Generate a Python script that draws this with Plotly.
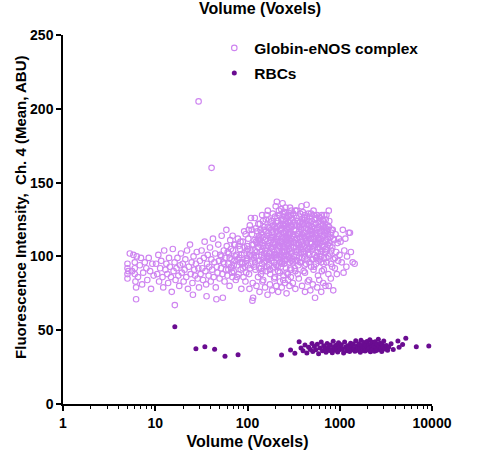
import plotly.graph_objects as go

# ---------------- data ----------------
# Globin-eNOS complex: (volume in voxels, mean intensity)
glob_left = [(5.0,88),(5.0,92),(5.0,85),(5.0,95),(5.1,90),(5.3,102),(5.6,90),(5.8,101),(6.0,96),(6.0,92),
             (6.0,88),(6.1,83),(6.2,79),(6.2,71),(6.3,100),(6.5,86),(6.8,94),(7.0,99),(7.2,81),(7.4,89),
             (7.7,96),(8.0,92),(8.2,84),(8.5,99),(8.8,90),(9.0,78),(9.3,95),(9.6,87)]
glob_b = [(10.2,95),(10.5,88),(10.8,101),(11,83),(11.3,92),(11.6,97),(12,86),(12.2,79),(12.5,104),(12.9,91),
          (13.2,95),(13.5,88),(13.8,82),(14.1,99),(14.4,93),(14.8,86),(15.1,76),(15.5,105),(15.8,90),(16.2,96),
          (16.3,67),(16.6,84),(17,92),(17.4,99),(17.8,87),(18.2,80),(18.6,94),(19,102),(19.4,89),(19.9,95),
          (20.3,83),(20.8,91),(21.2,98),(21.7,86),(22.1,104),(22.6,78),(23.1,93),(23.8,108),(24.2,88),(24.8,96),
          (25.3,82),(25.6,74),(26,100),(26.5,91),(27,87),(27.6,95),(28.2,103),(28.8,85),(29.3,92),(29.8,79)]
glob_outliers = [(29.5,205),(40.8,160)]
glob_c = [(30.5,97),(31,88),(31.8,104),(32.4,92),(33,84),(33.7,99),(34.3,110),(35,90),(35.6,81),(36,73),
          (36.4,95),(37.1,101),(37.9,87),(38.5,93),(39.2,106),(40,83),(40.6,98),(41.4,91),(42.2,112),(43,86),
          (43.8,96),(44.6,102),(45.3,79),(46,71),(46.5,93),(47.3,89),(48.2,108),(49,97),(49.8,85),(50.7,101),
          (51.6,92),(52.5,114),(53.4,88),(54,72),(54.5,96),(55.4,104),(56.4,83),(57.4,99),(58.4,91),(59,118),
          (59.6,107),(60.6,87),(61.7,95),(62.8,102),(63.9,80),(65,111),(66.1,93),(67.3,98),(68.5,86),(69,114),
          (69.7,104),(70.9,90),(72.1,97),(73.4,108),(74.7,84),(76,101),(77.3,94),(78.7,112),(80,88),(81.4,99),
          (82.9,105),(84.3,91),(85.8,78),(87.3,96),(88.9,110),(90.4,86),(92,102),(93.6,93),(95.3,115),(96.9,89),
          (98.6,99),(99.5,107),(62,91),(64,99),(66,105),(68,89),(71,94),(74,100),(77,86),(80,107),
          (83,96),(86,101),(89,92),(92,117),(95,83),(98,104)]
glob_d = [(100,98),(102,112),(104,88),(106,121),(108,104),(110,95),(112,115),(114,82),(116,108),(118,99),
          (120,126),(122,91),(124,110),(126,103),(128,117),(130,86),(132,106),(134,97),(136,122),(138,113),
          (140,92),(142,101),(144,128),(146,109),(148,84),(150,118),(152,96),(154,111),(156,104),(158,125),
          (160,90),(162,114),(164,100),(166,131),(168,107),(170,94),(172,119),(174,102),(176,88),(178,123),
          (180,111),(182,97),(184,116),(186,105),(188,129),(190,92),(192,113),(194,101),(196,120),(198,86),
          (200,108),(202,134),(204,99),(206,117),(208,137),(210,104),(212,93),(214,124),(216,110),(218,98),
          (220,128),(222,115),(224,89),(226,106),(228,121),(230,101),(232,132),(234,113),(236,95),(238,119),
          (240,136),(242,107),(244,84),(246,125),(248,103),(250,116),(253,97),(256,130),(259,110),(262,92),
          (265,122),(268,104),(271,118),(274,88),(277,127),(280,100),(283,114),(286,96),(289,133),(292,109),
          (295,121),(298,91),
          (105,78),(115,72),(113,70),(125,80),(135,76),(145,83),(155,79),(165,74),(175,81),(185,77),
          (195,85),(205,80),(215,76),(225,83),(235,79),(245,87),(255,82),(265,75),(275,84),(285,80),(295,86),
          (101,105),(107,92),(111,118),(117,101),(121,96),(127,109),(133,114),(139,103),(143,95),(149,107),
          (153,120),(159,112),(163,93),(169,116),(173,109),(179,99),(183,124),(187,113),(191,104),(197,110),
          (201,119),(207,101),(211,126),(217,114),(221,107),(227,96),(231,118),(237,110),(243,122),(249,100),
          (252,127),(257,112),(263,119),(267,98),(273,109),(279,123),(284,105),(288,115),(294,102),(297,128)]
glob_core = [(103,118),(109,126),(119,111),(123,119),(129,97),(131,122),(137,108),(141,116),(147,124),(151,102),
             (157,117),(161,128),(167,98),(171,125),(177,113),(181,106),(189,121),(193,96),(199,127),(203,112),
             (209,120),(213,108),(219,131),(223,118),(229,110),(233,125),(239,103),(241,129),(247,113),(251,121),
             (254,106),(258,133),(261,117),(264,101),(269,126),(272,113),(276,120),(281,108),(287,124),(291,116),
             (296,110),(299,131),(303,120),(308,114),(313,129),(317,100),(322,123),(327,111),(333,118),(338,126),
             (343,112),(347,97),(352,124),(357,109),(363,120),(368,113),(373,129),(377,106),(383,118),(388,125),
             (393,108),(398,130),(403,116),(410,121),(415,102),(421,126),(427,110),(433,119),(442,127),(447,114),
             (454,105),(461,121),(468,112),(476,127),(483,118),(491,109),(499,124),(507,115),(515,106),(524,128),
             (532,119),(541,110),(549,122),(558,116),(568,128),(577,103),(588,120),(597,111),(608,126),(617,109),
             (627,122),(637,114),(648,104),(658,124),(670,117),(680,128),(698,110),(708,119),(722,104),(745,115),
             (120,104),(135,111),(150,99),(165,107),(180,118),(195,103),(210,113),(225,100),(240,116),(255,104),
             (270,111),(285,119),(300,97),(315,115),(345,104),(375,113),(405,103),(435,106),(465,101),(495,115),
             (525,107),(555,99),(585,110),(615,100),(675,99),(720,96),(110,100),(130,112),(145,90),(160,106),
             (170,100),(190,109),(205,94),(220,102),(235,108),(250,95),(260,114),(280,105),(290,99),(320,106)]
glob_fill = [(52,100),(56,95),(61,103),(67,92),(72,108),(78,98),(84,110),(88,95),(93,106),(97,97),
             (102,94),(106,101),(112,108),(118,93),(124,100),(129,106),(134,92),(138,118),(144,104),(149,113),
             (155,97),(161,102),(166,120),(172,95),(178,106),(184,99),(189,117),(194,93),(200,101),(206,124),
             (212,99),(218,107),(224,121),(230,93),(236,103),(242,112),(248,130),(254,98),(260,124),(266,108),
             (272,100),(278,115),(284,128),(290,92),(296,106),(304,126),(311,96),(319,109),(326,121),(334,103),
             (341,131),(349,115),(356,94),(364,108),(372,123),(381,96),(389,115),(398,105),(407,126),(416,94),
             (426,112),(436,122),(446,98),(457,129),(468,106),(479,123),(490,93),(502,117),(514,98),(526,113),
             (539,125),(552,95),(565,118),(579,106),(593,127),(607,98),(622,112),(637,107),(652,125),(668,95),
             (684,120),(700,105),(717,128),(734,112),(752,100),(770,124),(789,107),(808,116),(828,93),(848,112),
             (140,88),(175,91),(215,90),(265,89),(330,90),(420,89),(520,91),(640,90),(240,96),(360,99)]
glob_e = [(300,112),(305,98),(310,125),(315,106),(320,118),(325,92),(330,131),(335,109),(340,101),(345,121),
          (350,88),(355,115),(360,104),(365,127),(370,96),(375,119),(380,110),(385,134),(390,99),(395,113),
          (400,123),(406,90),(412,107),(418,128),(424,116),(430,95),(437,135),(444,111),(451,102),(458,124),
          (465,84),(472,117),(480,106),(488,129),(496,98),(504,120),(512,112),(520,131),(528,93),(536,115),
          (545,108),(554,126),(563,100),(572,119),(581,87),(590,112),(600,124),(610,105),(620,117),(630,96),
          (640,128),(650,110),(661,121),(672,91),(683,114),(694,103),(705,125),(717,99),(729,117),(741,108),
          (753,88),(760,131),(765,120),(778,102),(791,113),(804,95),(817,118),(830,106),(840,118),(856,98),
          (870,111),(885,92),(890,99),(900,115),(915,103),(930,88),(946,109),(962,97),(978,112),(995,101),
          (310,82),(330,78),(360,85),(390,80),(420,76),(450,83),(480,77),(510,81),(540,72),(570,79),
          (600,84),(630,76),(660,82),(700,80),(760,80),(800,85),(850,77),
          (302,104),(318,113),(332,97),(348,108),(362,117),(378,103),(392,122),(408,114),(422,100),(440,109),
          (455,118),(470,96),(486,112),(502,105),(518,122),(534,101),(550,114),(566,109),(585,97),(605,116),
          (625,103),(645,118),(668,107),(690,116),(712,111),(735,121),(770,109),(810,104)]
glob_f = [(1020,110),(1050,96),(1080,118),(1100,89),(1120,104),(1150,112),(1180,93),(1200,100),(1250,116),
          (1290,116),(1320,103),(1380,96),(1450,95)]

# RBCs
rbc_left = [(16.3,52.4),(27.6,37.5),(34.5,38.8),(44,37.1),(57,32.3),(79,33.4),(234,33.2)]
rbc_cluster = [(293,36.6),(326,34.3),(363,42.2),(380,38),(400,36),(420,40),(440,34.5),(460,38.5),(480,37),(500,41),
               (510,35.5),(530,39),(550,36.8),(570,40.5),(590,34),(610,38),(630,42),(650,36),(670,39.5),(690,37.5),
               (710,35),(730,41),(750,38.2),(770,36.2),(790,40),(810,37),(830,34.8),(850,42.5),(870,38.8),(890,36.5),
               (910,39.8),(930,37.6),(950,35.2),(970,41.5),(990,38.4),(1010,36.9),(1040,40.2),(1070,37.3),(1100,34.6),
               (1130,42),(1160,38.6),(1190,36.1),(1220,39.4),(1250,37.8),(1280,35.5),(1310,41.2),(1340,38.9),(1370,36.7),
               (1400,40.6),(1430,37.2),(1460,35.8),(1490,42.8),(1520,39.1),(1550,36.4),(1580,38.3),(1610,40.9),(1640,37.4),
               (1670,35.1),(1700,43.2),(1730,39.6),(1760,37.9),(1790,36.3),(1820,41.7),(1850,38.7),(1880,35.9),(1910,40.3),
               (1940,37.1),(1970,42.4),(2000,38.5),(2030,36.6),(2060,39.9),(2090,37.7),(2120,43.5),(2150,35.4),(2180,40.7),
               (2210,38.1),(2240,36.8),(2270,41.9),(2300,37.5),(2340,39.3),(2380,35.7),(2420,42.1),(2460,38.2),(2500,36.2),
               (2540,40.4),(2580,37.3),(2620,43.8),(2660,39.0),(2700,36.9),(2750,41.1),(2800,37.8),(2850,35.6),(2900,40.1),
               (2950,38.4),(3000,42.6),(3100,37.2),(3200,39.7),(3300,36.4),(3400,38.6),(3600,40.8),(3800,37.0)]
rbc_right = [(4270,42.7),(4400,38.5),(4800,40.3),(5200,44.5),(6760,38.8),(9230,39.3)]

x_tick_vals = [1, 10, 100, 1000, 10000]
x_tick_text = ["1", "10", "100", "1000", "10000"]
y_tick_vals = [0, 50, 100, 150, 200, 250]

# ---------------- figure ----------------
glob_pts = (glob_left + glob_b + glob_outliers + glob_c + glob_d + glob_core + glob_fill
            + glob_e + glob_f)
rbc_pts = rbc_left + rbc_cluster + rbc_right

FONT = "Liberation Sans, Arial, sans-serif"
GLOB_COLOR = "rgb(206,132,240)"
RBC_COLOR = "rgb(106,12,145)"

fig = go.Figure()
fig.add_trace(go.Scatter(
    x=[p[0] for p in glob_pts], y=[p[1] for p in glob_pts],
    mode="markers", name="Globin-eNOS complex", legendgroup="g",
    marker=dict(symbol="circle-open", size=5.5, color=GLOB_COLOR, line=dict(width=1.15)),
))
fig.add_trace(go.Scatter(
    x=[p[0] for p in rbc_pts], y=[p[1] for p in rbc_pts],
    mode="markers", name="RBCs", legendgroup="r",
    marker=dict(symbol="circle", size=5, color=RBC_COLOR),
))

minor_vals = [m * d for d in (1, 10, 100, 1000) for m in range(2, 10)]

fig.update_layout(
    width=483, height=450,
    margin=dict(l=63, r=51, t=35, b=46),
    paper_bgcolor="white", plot_bgcolor="white",
    font=dict(family=FONT, color="black"),
    showlegend=True,
    legend=dict(x=0.41, y=1.01, xanchor="left", yanchor="top",
                font=dict(size=15.5, weight="bold", family=FONT, color="black"),
                bgcolor="rgba(0,0,0,0)", tracegroupgap=2, itemsizing="trace"),
    xaxis=dict(type="log", range=[0, 4], tickvals=x_tick_vals, ticktext=x_tick_text,
               showline=True, linecolor="black", linewidth=1.5, showgrid=False, zeroline=False,
               ticks="outside", ticklen=5, tickwidth=1.5, tickcolor="black",
               tickfont=dict(size=14, weight="bold", family=FONT),
               minor=dict(tickvals=minor_vals, ticks="outside", ticklen=3, tickwidth=1.2,
                          tickcolor="black", showgrid=False),
               title=dict(text="Volume (Voxels)", font=dict(size=16, weight="bold", family=FONT), standoff=6),
               automargin=False),
    yaxis=dict(range=[0, 250], tickvals=y_tick_vals,
               showline=True, linecolor="black", linewidth=1.5, showgrid=False, zeroline=False,
               ticks="outside", ticklen=5, tickwidth=1.5, tickcolor="black",
               tickfont=dict(size=14, weight="bold", family=FONT),
               automargin=False),
    annotations=[
        dict(text="Volume (Voxels)", xref="paper", yref="paper", x=0.534, y=1.072,
             xanchor="center", yanchor="middle", showarrow=False,
             font=dict(size=16, weight="bold", family=FONT, color="black")),
        dict(text="Fluorescence Intensity,  Ch. 4 (Mean, ABU)", xref="paper", yref="paper",
             x=-0.114, y=0.534, xanchor="center", yanchor="middle", textangle=-90, showarrow=False,
             font=dict(size=15, weight="bold", family=FONT, color="black")),
    ],
)

fig.write_html("out.html", config={"displayModeBar": False},
               post_script="document.body.style.margin='0';")
